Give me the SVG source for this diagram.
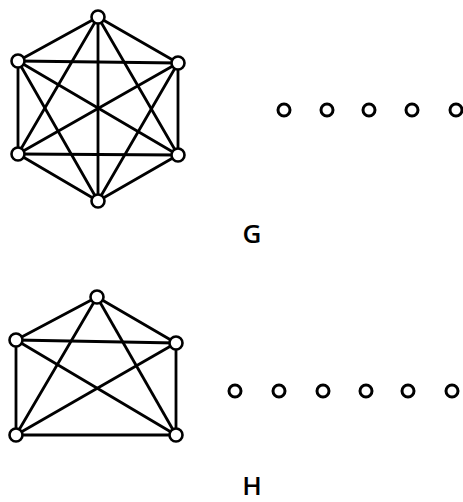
<svg xmlns="http://www.w3.org/2000/svg" width="463" height="502" viewBox="0 0 463 502">
  <style>
    .edge { stroke: #000; stroke-width: 2.8; stroke-linecap: round; fill: none; }
    .node { fill: #fff; stroke: #000; stroke-width: 2.6; }
    .iso { fill: #fff; stroke: #000; stroke-width: 3; }
    .label { font-family: "Open Sans", "Noto Sans", sans-serif; font-weight: 600; font-size: 26px; fill: #000; text-anchor: middle; }
  </style>
  <rect width="463" height="502" fill="#fff"/>

  <!-- Edges: G is complete on six vertices, H is complete on five -->
  <g id="connectors">
    <g id="edges-G">
      <line class="edge" x1="98" y1="17" x2="18" y2="61"/>
      <line class="edge" x1="98" y1="17" x2="178" y2="63"/>
      <line class="edge" x1="98" y1="17" x2="18" y2="154"/>
      <line class="edge" x1="98" y1="17" x2="178" y2="155"/>
      <line class="edge" x1="98" y1="17" x2="98" y2="201"/>
      <line class="edge" x1="18" y1="61" x2="178" y2="63"/>
      <line class="edge" x1="18" y1="61" x2="18" y2="154"/>
      <line class="edge" x1="18" y1="61" x2="178" y2="155"/>
      <line class="edge" x1="18" y1="61" x2="98" y2="201"/>
      <line class="edge" x1="178" y1="63" x2="18" y2="154"/>
      <line class="edge" x1="178" y1="63" x2="178" y2="155"/>
      <line class="edge" x1="178" y1="63" x2="98" y2="201"/>
      <line class="edge" x1="18" y1="154" x2="178" y2="155"/>
      <line class="edge" x1="18" y1="154" x2="98" y2="201"/>
      <line class="edge" x1="178" y1="155" x2="98" y2="201"/>
    </g>
    <g id="edges-H">
      <line class="edge" x1="97" y1="297" x2="16" y2="340"/>
      <line class="edge" x1="97" y1="297" x2="176" y2="343"/>
      <line class="edge" x1="97" y1="297" x2="16" y2="435"/>
      <line class="edge" x1="97" y1="297" x2="176" y2="435"/>
      <line class="edge" x1="16" y1="340" x2="176" y2="343"/>
      <line class="edge" x1="16" y1="340" x2="16" y2="435"/>
      <line class="edge" x1="16" y1="340" x2="176" y2="435"/>
      <line class="edge" x1="176" y1="343" x2="16" y2="435"/>
      <line class="edge" x1="176" y1="343" x2="176" y2="435"/>
      <line class="edge" x1="16" y1="435" x2="176" y2="435"/>
    </g>
  </g>

  <!-- Graph G -->
  <g id="G">
    <g id="g1"><circle class="node" cx="98" cy="17" r="6.5"/></g>
    <g id="g2"><circle class="node" cx="18" cy="61" r="6.5"/></g>
    <g id="g3"><circle class="node" cx="178" cy="63" r="6.5"/></g>
    <g id="g4"><circle class="node" cx="18" cy="154" r="6.5"/></g>
    <g id="g5"><circle class="node" cx="178" cy="155" r="6.5"/></g>
    <g id="g6"><circle class="node" cx="98" cy="201" r="6.5"/></g>
  </g>

  <!-- Isolated vertices beside G -->
  <g id="G-isolated">
    <g id="gi1"><circle class="iso" cx="284" cy="110" r="6"/></g>
    <g id="gi2"><circle class="iso" cx="327" cy="110" r="6"/></g>
    <g id="gi3"><circle class="iso" cx="369" cy="110" r="6"/></g>
    <g id="gi4"><circle class="iso" cx="412" cy="110" r="6"/></g>
    <g id="gi5"><circle class="iso" cx="456" cy="110" r="6"/></g>
  </g>

  <!-- Graph H -->
  <g id="H">
    <g id="h1"><circle class="node" cx="97" cy="297" r="6.5"/></g>
    <g id="h2"><circle class="node" cx="16" cy="340" r="6.5"/></g>
    <g id="h3"><circle class="node" cx="176" cy="343" r="6.5"/></g>
    <g id="h4"><circle class="node" cx="16" cy="435" r="6.5"/></g>
    <g id="h5"><circle class="node" cx="176" cy="435" r="6.5"/></g>
  </g>

  <!-- Isolated vertices beside H -->
  <g id="H-isolated">
    <g id="hi1"><circle class="iso" cx="235" cy="391" r="6"/></g>
    <g id="hi2"><circle class="iso" cx="279" cy="391" r="6"/></g>
    <g id="hi3"><circle class="iso" cx="323" cy="391" r="6"/></g>
    <g id="hi4"><circle class="iso" cx="366" cy="391" r="6"/></g>
    <g id="hi5"><circle class="iso" cx="408" cy="391" r="6"/></g>
    <g id="hi6"><circle class="iso" cx="452" cy="391" r="6"/></g>
  </g>

  <!-- Labels -->
  <text id="label-G" class="label" x="252" y="243">G</text>
  <text id="label-H" class="label" x="252" y="495">H</text>
</svg>
